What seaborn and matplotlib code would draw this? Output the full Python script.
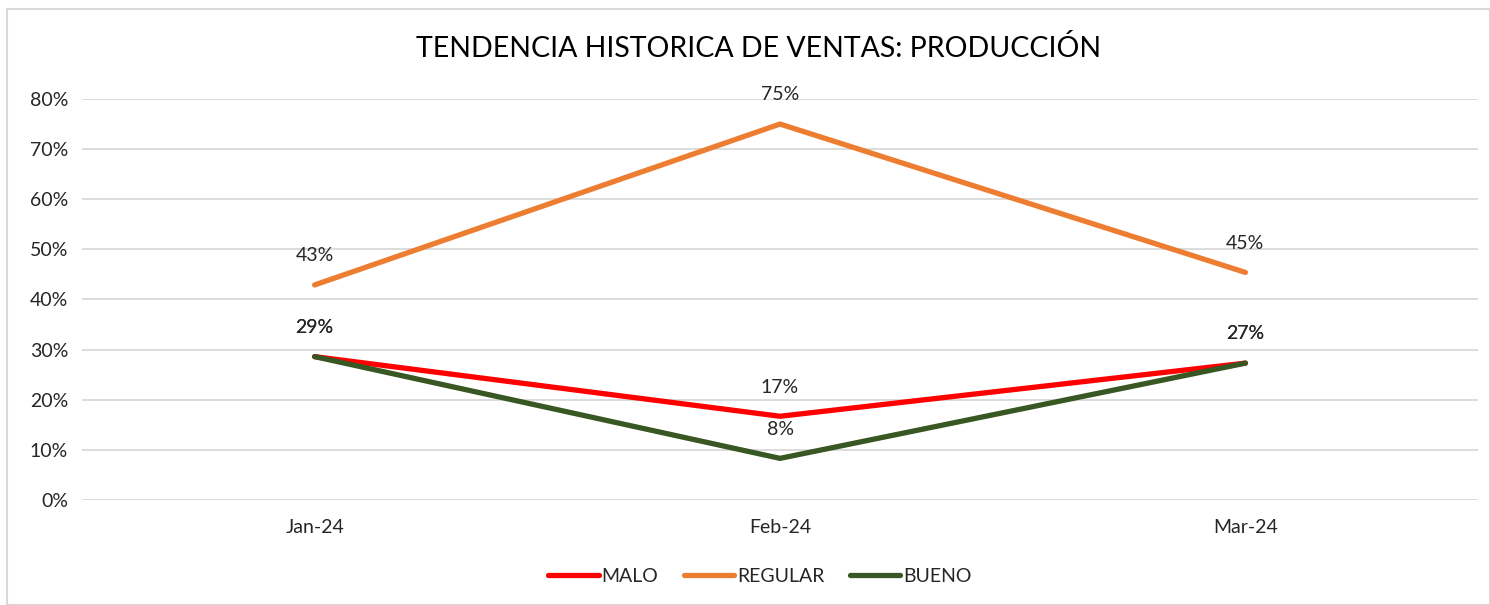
import pandas as pd
import matplotlib.pyplot as plt
import matplotlib.patches as mpatches
import seaborn as sns

meses = ["Jan-24", "Feb-24", "Mar-24"]
malo = [0.286, 0.167, 0.273]
regular = [0.429, 0.75, 0.454]
bueno = [0.286, 0.083, 0.273]
series = ["MALO", "REGULAR", "BUENO"]
colores = ["#FF0000", "#ED7D31", "#385723"]

df = pd.DataFrame({
    "mes": meses * 3,
    "valor": malo + regular + bueno,
    "serie": [s for s in series for _ in meses],
})

sns.set_style("white")
plt.rcParams["font.family"] = ["Lato", "DejaVu Sans"]

fig = plt.figure(figsize=(14.9, 6.05), dpi=100)
ax = fig.add_axes([0.055, 0.1736, 0.937, 0.6628])

sns.lineplot(data=df, x="mes", y="valor", hue="serie", palette=colores,
             linewidth=3.8, sort=False, ax=ax, legend=False)
for line in ax.lines:
    line.set_solid_capstyle("round")

for s, vals in zip(series, [malo, regular, bueno]):
    for i, v in enumerate(vals):
        ax.annotate(f"{v:.0%}", (i, v), xytext=(0, 21), textcoords="offset points",
                    ha="center", va="center", fontsize=14, color="#262626")

ax.set_xlim(-0.5, 2.5)
ax.set_ylim(0, 0.8)
ax.set_yticks([i / 10 for i in range(9)])
ax.set_yticklabels([f"{i * 10}%" for i in range(9)])
ax.yaxis.grid(True, color="#D9D9D9", linewidth=1.3)
ax.set_axisbelow(True)
ax.tick_params(axis="both", labelsize=14, colors="#262626", length=0, pad=10)
ax.tick_params(axis="x", pad=14)
ax.set_xlabel("")
ax.set_ylabel("")
for sp in ax.spines.values():
    sp.set_visible(False)

fig.text(0.509, 0.92, "TENDENCIA HISTORICA DE VENTAS: PRODUCCIÓN",
         ha="center", va="center", fontsize=20.5, color="#000000")

handles = [plt.Line2D([], [], color=c, linewidth=3.8, solid_capstyle="round") for c in colores]
fig.legend(handles, series, loc="center", bbox_to_anchor=(0.51, 0.047), ncol=3,
           frameon=False, fontsize=14, handlelength=2.6, handletextpad=0.15,
           columnspacing=1.3)

fig.patches.append(mpatches.Rectangle((0.005, 0.0), 0.995, 0.985, transform=fig.transFigure,
                                      fill=False, edgecolor="#D9D9D9", linewidth=1.5))

fig.savefig("out.png", dpi=100, facecolor="white")
